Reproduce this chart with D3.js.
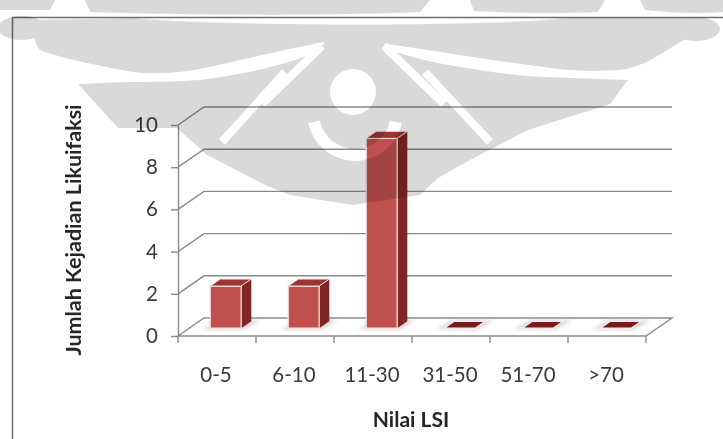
<!DOCTYPE html>
<html><head><meta charset="utf-8">
<script src="https://cdn.jsdelivr.net/npm/d3@7"></script>
<style>
html,body{margin:0;padding:0;background:#fff;}
svg{display:block;font-family:Lato,"Open Sans",sans-serif;}
</style></head><body>
<svg id="chart" width="723" height="439"></svg>
<script>
// ---- data ----
const categories = ["0-5", "6-10", "11-30", "31-50", "51-70", ">70"];
const counts = [2, 2, 9, 0, 0, 0];
const yTicks = [0, 2, 4, 6, 8, 10];
const yTitle = "Jumlah Kejadian Likuifaksi";
const xTitle = "Nilai LSI";

// ---- layout ----
const W = 723, H = 439;
const DX = 26, DY = -18;          // depth vector of the 3-D box (front -> back wall)
const F0 = 0.43, F1 = 0.82;       // depth fractions of a column's front and back faces
const BAR_OFF = 21, BAR_W = 31;   // column position inside its category band

const x = d3.scaleBand().domain(categories).range([178, 646]);
const y = d3.scaleLinear().domain([0, 10]).range([336, 125]);
const proj = (xf, v, f) => [xf + f * DX, y(v) + f * DY];
const poly = pts => "M" + pts.map(p => p.join(",")).join("L") + "Z";

const svg = d3.select("#chart");
svg.append("rect").attr("width", W).attr("height", H).attr("fill", "#fff");

const defs = svg.append("defs");
defs.append("filter").attr("id", "shadowBlur")
  .attr("x", "-50%").attr("y", "-50%").attr("width", "200%").attr("height", "200%")
  .append("feGaussianBlur").attr("stdDeviation", 2.2);

// chart area frame
svg.append("rect")
  .attr("x", 12.5).attr("y", 17.5).attr("width", 800).attr("height", 500)
  .attr("fill", "none").attr("stroke", "#6f6f6f").attr("stroke-width", 1.5);

const [x0, x1] = x.range();
const gridColor = "#8a8a8a";

// floor plate
svg.append("path")
  .attr("d", poly([proj(x0, 0, 0), proj(x0, 0, 1), proj(x1, 0, 1), proj(x1, 0, 0)]))
  .attr("fill", "#fff").attr("stroke", gridColor).attr("stroke-width", 1.4);

// side-wall and back-wall gridlines
svg.append("g").selectAll("path").data(yTicks.filter(t => t > 0)).join("path")
  .attr("d", t => "M" + proj(x0, t, 0) + "L" + proj(x0, t, 1) + "L" + proj(x1, t, 1))
  .attr("fill", "none").attr("stroke", gridColor).attr("stroke-width", 1.4);

// soft shadows on the floor under each column
svg.append("g").attr("filter", "url(#shadowBlur)").selectAll("path")
  .data(categories).join("path")
  .attr("d", c => {
    const l = x(c) + BAR_OFF - 6, r = x(c) + BAR_OFF + BAR_W + 3;
    return poly([proj(l, 0, F0 - 0.06), proj(r, 0, F0 - 0.06), proj(r + 4, 0, F1 + 0.05), proj(l + 4, 0, F1 + 0.05)]);
  })
  .attr("fill", "#b8b8b8").attr("opacity", 0.7);

// columns
const bars = svg.append("g").selectAll("g")
  .data(categories.map((c, i) => ({ c, v: counts[i] }))).join("g");

bars.each(function (d) {
  const g = d3.select(this);
  const l = x(d.c) + BAR_OFF, r = l + BAR_W;
  if (d.v > 0) {
    g.append("path")
      .attr("d", poly([proj(r, 0, F0), proj(r, d.v, F0), proj(r, d.v, F1), proj(r, 0, F1)]))
      .attr("fill", "#7f2624");
    g.append("path")
      .attr("d", poly([proj(l, 0, F0), proj(r, 0, F0), proj(r, d.v, F0), proj(l, d.v, F0)]))
      .attr("fill", "#c0504d").attr("stroke", "#f6e2e1").attr("stroke-width", 1.3);
    g.append("path")
      .attr("d", poly([proj(l, d.v, F0), proj(r, d.v, F0), proj(r, d.v, F1), proj(l, d.v, F1)]))
      .attr("fill", "#9a3532").attr("stroke", "#f6e2e1").attr("stroke-width", 1);
  } else {
    g.append("path")
      .attr("d", poly([proj(l, 0, F0), proj(r, 0, F0), proj(r, 0, F1), proj(l, 0, F1)]))
      .attr("fill", "#741c1c").attr("stroke", "#f7ecec").attr("stroke-width", 1.4);
  }
});

// front value axis
const yAxis = svg.append("g").attr("transform", `translate(${x0},0)`)
  .call(d3.axisLeft(y).tickValues(yTicks).tickSize(7).tickSizeOuter(0).tickPadding(13));
yAxis.select(".domain").attr("stroke", gridColor).attr("stroke-width", 1.4);
yAxis.selectAll(".tick line").attr("stroke", gridColor).attr("stroke-width", 1.4);
yAxis.selectAll(".tick text").attr("fill", "#3a3a3a").style("font-size", "20.5px")
  .style("font-family", "Lato, 'Open Sans', sans-serif");

// category axis: boundary ticks and centred labels
const bounds = categories.map(c => x(c)).concat([x1]);
svg.append("g").selectAll("line").data(bounds).join("line")
  .attr("x1", b => b).attr("x2", b => b).attr("y1", y(0)).attr("y2", y(0) + 7)
  .attr("stroke", gridColor).attr("stroke-width", 1.4);
svg.append("g").selectAll("text").data(categories).join("text")
  .attr("x", c => x(c) + x.bandwidth() / 2 - 1).attr("y", 382)
  .attr("text-anchor", "middle").attr("fill", "#3a3a3a").style("font-size", "20.5px")
  .text(c => c);

// axis titles
svg.append("text")
  .attr("transform", "translate(81,230) rotate(-90)")
  .attr("text-anchor", "middle").attr("fill", "#262626")
  .style("font-size", "21.5px").style("font-weight", "bold")
  .text(yTitle);
svg.append("text")
  .attr("x", 411).attr("y", 427).attr("text-anchor", "middle").attr("fill", "#262626")
  .style("font-size", "21px").style("font-weight", "bold")
  .text(xTitle);

// ---- faint crest watermark laid over the page ----
const mask = defs.append("mask").attr("id", "crestCut");
mask.append("rect").attr("width", W).attr("height", H).attr("fill", "#fff");
const cut = mask.append("g").attr("fill", "none").attr("stroke", "#000").attr("stroke-linecap", "butt");
cut.append("path").attr("d", "M322,46L262,104").attr("stroke-width", 8);
cut.append("path").attr("d", "M384,46L444,104").attr("stroke-width", 8);
cut.append("path").attr("d", "M285,72L222,142").attr("stroke-width", 8);
cut.append("path").attr("d", "M425,72L490,142").attr("stroke-width", 8);
cut.append("path").attr("d", "M314,122A42,42 0 0 0 396,122").attr("stroke-width", 12);
cut.append("circle").attr("cx", 353).attr("cy", 92).attr("r", 23).attr("fill", "#000").attr("stroke", "none");

const crest = svg.append("g").attr("mask", "url(#crestCut)")
  .attr("fill", "#d9d9d9").style("mix-blend-mode", "multiply");
crest.append("path").attr("d", "M0,0H55L50,10H0Z");
crest.append("path").attr("d", "M85,0H430L420,12C330,16 180,15 90,12Z");
crest.append("path").attr("d", "M470,0H605L598,12C560,14 510,13 474,11Z");
crest.append("path").attr("d", "M640,0H723V12C700,14 670,13 645,10Z");
crest.append("ellipse").attr("cx", 22).attr("cy", 28).attr("rx", 24).attr("ry", 12);
crest.append("ellipse").attr("cx", 696).attr("cy", 29).attr("rx", 24).attr("ry", 12);
crest.append("path").attr("d",
  "M38,20L135,18C200,26 500,27 565,18L688,18C700,25 695,35 680,42C660,55 640,68 620,70" +
  "C590,72 560,70 544,67C500,62 430,50 381,43L353,40L325,42C290,48 230,63 200,69" +
  "C170,74 150,74 133,72C100,66 60,58 40,50C32,40 32,28 38,20Z");
crest.append("path").attr("d",
  "M78,84C100,83 120,82 133,82C160,82 185,81 200,80C230,76 250,72 267,68C290,62 310,56 318,50" +
  "L327,40L380,40L390,50C410,57 435,63 461,67C490,72 520,76 544,77L628,80" +
  "L610,104L528,130L470,160L438,178L420,195L353,205L290,195L265,185L207,155L177,128L118,128Z");
</script>
</body></html>
